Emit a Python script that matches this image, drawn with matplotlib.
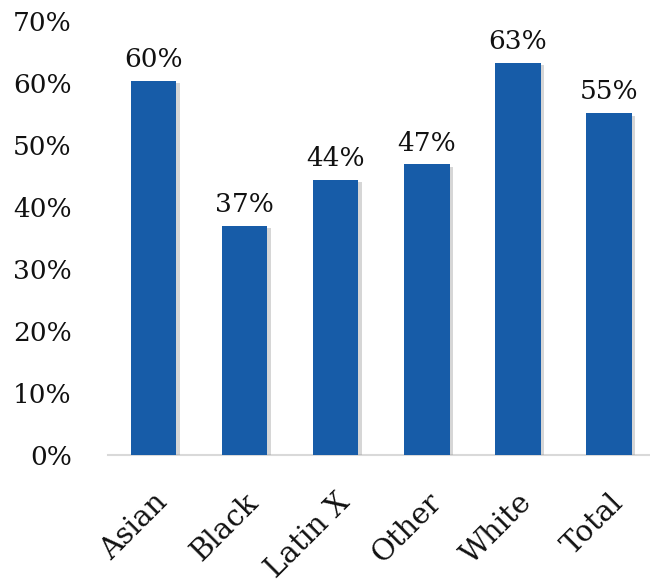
import matplotlib
matplotlib.use("Agg")
import matplotlib.pyplot as plt
import matplotlib.patheffects as pe
from matplotlib.ticker import FuncFormatter, MultipleLocator

categories = ["Asian", "Black", "Latin X", "Other", "White", "Total"]
rates = [0.604, 0.370, 0.444, 0.469, 0.633, 0.552]

BAR_COLOR = "#175ca8"
NUM_FONT = "DejaVu Serif"
CAT_FONT = "DejaVu Serif"

fig = plt.figure(figsize=(6.5, 5.84), dpi=100)
ax = fig.add_axes([0.166, 0.221, 0.841, 0.743])

x = range(len(categories))
bars = ax.bar(x, rates, width=0.5, color=BAR_COLOR, zorder=3)
for b in bars:
    b.set_path_effects([
        pe.SimplePatchShadow(offset=(2.5, -2), shadow_rgbFace="#9a9a9a", alpha=0.4),
        pe.Normal(),
    ])

for xi, v in zip(x, rates):
    ax.annotate(f"{v:.0%}", (xi, v), xytext=(0, 6), textcoords="offset points",
                ha="center", va="bottom", fontsize=19, family=NUM_FONT, color="#111111")

ax.set_xlim(-0.5, len(categories) - 0.5)
ax.set_ylim(0, 0.7)
ax.yaxis.set_major_locator(MultipleLocator(0.1))
ax.yaxis.set_major_formatter(FuncFormatter(lambda v, _: f"{v:.0%}"))

for s in ["top", "right", "left"]:
    ax.spines[s].set_visible(False)
ax.spines["bottom"].set_color("#d9d9d9")
ax.spines["bottom"].set_linewidth(1.5)

ax.tick_params(axis="y", length=0, pad=26, labelsize=19)
ax.tick_params(axis="x", length=0, pad=24)
for lbl in ax.get_yticklabels():
    lbl.set_family(NUM_FONT)
    lbl.set_color("#111111")

ax.set_xticks(list(x))
ax.set_xticklabels(categories, rotation=45, ha="right", rotation_mode="anchor",
                   fontsize=21, family=CAT_FONT, color="#111111")

fig.savefig("out.png", dpi=100)
